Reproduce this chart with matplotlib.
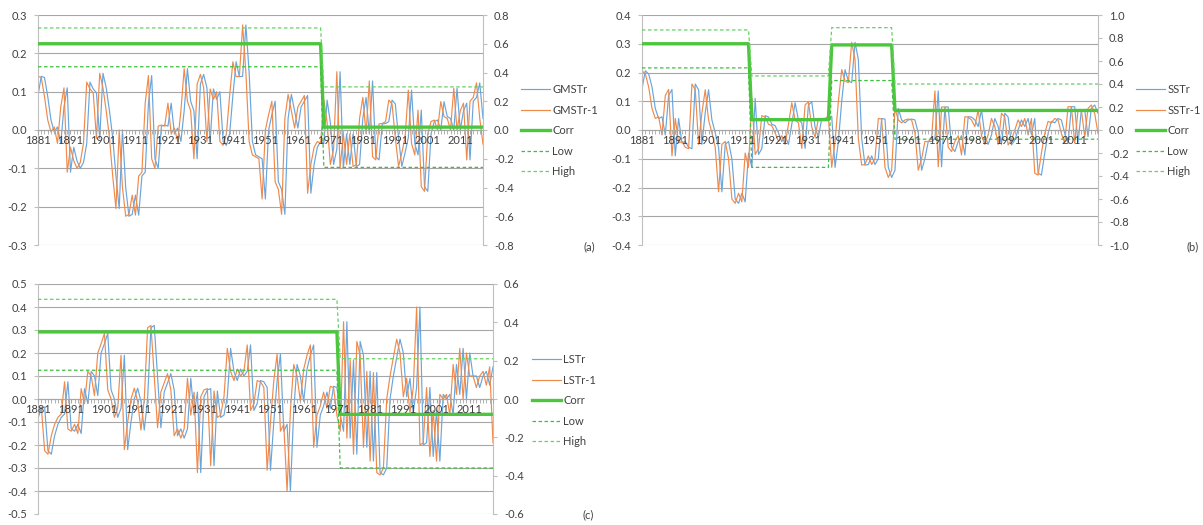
import numpy as np
import matplotlib
matplotlib.use("Agg")
import matplotlib.pyplot as plt
from matplotlib.ticker import FormatStrFormatter

plt.rcParams["font.family"] = ["Lato", "DejaVu Sans"]
plt.rcParams["axes.unicode_minus"] = False

years = np.arange(1881, 2019)
label_years = np.arange(1881, 2012, 10)

# (a) global mean surface temperature residuals, r-1 series (1881-2018)
gmstr_1 = [
    0.14, 0.137, 0.087, 0.026, -0.005, 0.008, -0.035, 0.06, 0.11, -0.11,
    -0.045, -0.08, -0.1, -0.085, -0.035, 0.125, 0.107, 0.097, -0.022, 0.148,
    0.11, 0.05, -0.02, -0.12, -0.205, 0.0, -0.15, -0.225, -0.22, -0.17,
    -0.222, -0.12, -0.11, 0.07, 0.142, -0.075, -0.1, 0.01, 0.013, 0.01,
    0.07, -0.01, 0.005, -0.03, 0.05, 0.16, 0.075, 0.05, -0.075, 0.12,
    0.145, 0.11, -0.03, 0.107, 0.08, 0.1, -0.03, -0.04, -0.01, 0.09,
    0.178, 0.139, 0.14, 0.274, 0.15, -0.03, -0.065, -0.07, -0.075, -0.18,
    0.0, 0.04, 0.075, -0.135, -0.155, -0.22, 0.03, 0.093, 0.05, 0.005,
    0.06, 0.075, 0.09, -0.165, -0.09, -0.045, -0.03, -0.035, 0.078, 0.02,
    -0.09, -0.05, 0.152, -0.1, -0.01, -0.09, -0.01, -0.095, -0.09, 0.03,
    0.085, -0.01, 0.128, -0.07, -0.078, 0.016, 0.017, 0.022, 0.078, 0.068,
    -0.02, -0.095, -0.06, -0.02, 0.104, -0.035, -0.065, 0.052, -0.148, -0.16,
    -0.01, 0.022, 0.026, 0.0, 0.074, 0.035, 0.03, 0.0, 0.109, 0.0,
    0.05, 0.07, -0.078, 0.075, 0.085, 0.123, 0.03, -0.037,
]
gmstr_first = 0.09
corr_a_len = [88, 50]
corr_a = [0.60, 0.02]
low_a = [0.44, -0.26]
high_a = [0.71, 0.30]

# (b) sea surface temperature residuals
sstr_1 = [
    0.206, 0.195, 0.15, 0.075, 0.04, 0.046, -0.017, 0.12, 0.141, -0.09,
    0.04, -0.045, -0.04, -0.06, -0.065, 0.16, 0.14, -0.05, 0.06, 0.14,
    0.035, -0.01, -0.06, -0.215, -0.05, -0.04, -0.1, -0.24, -0.255, -0.22,
    -0.25, -0.08, -0.13, 0.11, -0.085, -0.065, 0.05, 0.045, 0.02, 0.015,
    -0.01, -0.04, -0.02, -0.05, 0.02, 0.095, 0.035, 0.025, -0.064, 0.087,
    0.098, 0.01, -0.025, 0.04, 0.04, 0.04, 0.048, -0.13, -0.04, 0.1,
    0.21, 0.17, 0.165, 0.305, 0.245, -0.03, -0.122, -0.12, -0.09, -0.12,
    -0.1, 0.04, 0.038, -0.13, -0.165, -0.14, 0.075, 0.035, 0.025, 0.035,
    0.038, 0.035, -0.01, -0.14, -0.1, -0.04, -0.04, -0.03, 0.136, -0.128,
    0.08, 0.08, -0.06, -0.075, -0.04, -0.02, -0.087, 0.046, 0.045, 0.035,
    0.012, 0.07, -0.02, -0.05, -0.017, 0.04, 0.012, -0.05, 0.058, 0.045,
    -0.052, -0.035, 0.0, 0.035, 0.012, 0.04, -0.017, 0.04, -0.15, -0.157,
    -0.08, -0.012, 0.03, 0.025, 0.04, 0.035, -0.012, -0.046, 0.081, 0.081,
    -0.046, 0.07, 0.07, -0.023, 0.075, 0.087, 0.058, -0.012,
]
sstr_first = 0.143
corr_b_len = [33, 24, 19, 62]
corr_b = [0.75, 0.09, 0.74, 0.17]
low_b = [0.54, -0.325, 0.43, -0.08]
high_b = [0.87, 0.47, 0.89, 0.40]

# (c) land surface temperature residuals
lstr_1 = [
    -0.04, -0.035, -0.225, -0.24, -0.16, -0.11, -0.08, -0.065, 0.075, -0.13,
    -0.14, -0.11, -0.15, 0.045, -0.02, 0.12, 0.1, 0.015, 0.2, 0.24,
    0.285, 0.04, 0.0, -0.08, -0.04, 0.19, -0.22, -0.1, 0.0, 0.047,
    -0.01, -0.135, 0.0, 0.31, 0.32, 0.1, -0.125, 0.03, 0.07, 0.11,
    0.04, -0.16, -0.13, -0.17, -0.13, 0.09, -0.07, 0.03, -0.32, 0.01,
    0.04, 0.045, -0.29, 0.035, -0.08, -0.07, 0.01, 0.22, 0.12, 0.08,
    0.13, 0.1, 0.12, 0.235, -0.05, -0.02, 0.08, 0.075, 0.05, -0.31,
    -0.1, 0.08, 0.195, -0.14, -0.11, -0.4, -0.05, 0.15, 0.1, -0.01,
    0.13, 0.19, 0.235, -0.21, -0.07, -0.03, 0.03, -0.04, 0.055, 0.05,
    -0.07, -0.14, 0.336, -0.17, 0.17, -0.24, 0.25, 0.19, -0.21, 0.12,
    -0.27, 0.115, -0.32, -0.33, -0.3, 0.0, 0.1, 0.18, 0.26, 0.2,
    0.01, 0.09, -0.06, 0.05, 0.4, -0.2, -0.19, 0.05, -0.25, -0.05,
    -0.27, 0.02, 0.0, 0.02, -0.07, 0.15, 0.02, 0.22, 0.0, 0.2,
    0.1, 0.1, 0.05, 0.1, 0.12, 0.06, 0.14, -0.19,
]
lstr_first = -0.084
corr_c_len = [91, 47]
corr_c = [0.35, -0.08]
low_c = [0.15, -0.36]
high_c = [0.52, 0.21]

BLUE = "#6aa5dc"
ORANGE = "#f08a4b"
GREEN = "#4cc63c"
LOW_C = "#3fbf3f"
HIGH_C = "#66d166"
GRID = "#a6a6a6"
AXIS = "#bfbfbf"
TXT = "#404040"
FS = 8

W, H = 1203, 525
fig = plt.figure(figsize=(W / 100, H / 100), dpi=100)


def px_rect(x0, y0, x1, y1):
    return [x0 / W, 1 - y1 / H, (x1 - x0) / W, (y1 - y0) / H]


def ticks(lo, hi, step):
    # +0.0 turns -0.0 into 0.0 so the zero label has no sign
    return np.round(np.arange(lo, hi + step / 2, step), 1) + 0.0


def panel(box, name, lead, first, seg_len, corr, low, high,
          lticks, rticks, leg_xy, tag, tag_xy):
    lag = [first] + list(lead[:-1])

    # left scale: residual series + gridlines
    ax = fig.add_axes(px_rect(*box))
    ax.set_xlim(years[0], years[-1])
    ax.set_ylim(lticks[0], lticks[-1])
    ax.set_yticks(lticks)
    ax.yaxis.set_major_formatter(FormatStrFormatter("%.1f"))
    ax.grid(axis="y", color=GRID, lw=0.8)
    ax.set_axisbelow(True)
    for s in ("top", "right", "bottom"):
        ax.spines[s].set_visible(False)
    ax.spines["left"].set_color(AXIS)
    ax.tick_params(axis="x", which="both", bottom=False, labelbottom=False)
    ax.tick_params(axis="y", length=3, color=AXIS, labelsize=FS,
                   labelcolor=TXT, pad=5)

    ax.plot(years, lag, color=BLUE, lw=0.85, label=name)
    ax.plot(years, lead, color=ORANGE, lw=0.85, label=name + "-1")

    # right scale: correlation with its bounds; also carries the year axis
    ax2 = ax.twinx()
    ax2.set_ylim(rticks[0], rticks[-1])
    ax2.set_yticks(rticks)
    ax2.yaxis.set_major_formatter(FormatStrFormatter("%.1f"))
    for s in ("top", "left"):
        ax2.spines[s].set_visible(False)
    ax2.spines["right"].set_color(AXIS)
    ax2.spines["bottom"].set_position(("data", 0))
    ax2.spines["bottom"].set_color(GRID)
    ax2.xaxis.set_visible(True)
    ax2.set_xticks(label_years)
    ax2.set_xticks(years, minor=True)
    ax2.set_axisbelow(False)
    ax2.tick_params(axis="x", which="both", direction="out", length=3,
                    color=GRID, labelsize=FS, labelcolor=TXT, pad=0.5)
    ax2.tick_params(axis="y", length=3, color=AXIS, labelsize=FS,
                    labelcolor=TXT, pad=5)

    ax2.plot(years, np.repeat(corr, seg_len), color=GREEN, lw=2.4,
             label="Corr")
    ax2.plot(years, np.repeat(low, seg_len), color=LOW_C, lw=0.9,
             ls=(0, (2.8, 2.0)), label="Low")
    ax2.plot(years, np.repeat(high, seg_len), color=HIGH_C, lw=0.9,
             ls=(0, (2.8, 2.0)), label="High")

    h1, l1 = ax.get_legend_handles_labels()
    h2, l2 = ax2.get_legend_handles_labels()
    fig.legend(h1 + h2, l1 + l2, loc="upper left",
               bbox_to_anchor=(leg_xy[0] / W, 1 - leg_xy[1] / H),
               frameon=False, fontsize=FS, labelcolor=TXT,
               handlelength=2.6, handletextpad=0.2, labelspacing=0.86,
               borderpad=0, borderaxespad=0)

    fig.text(tag_xy[0] / W, 1 - tag_xy[1] / H, tag, ha="center",
             va="center", fontsize=FS, color=TXT)


panel((38, 15, 483, 245), "GMSTr", gmstr_1, gmstr_first, corr_a_len,
      corr_a, low_a, high_a,
      ticks(-0.3, 0.3, 0.1), ticks(-0.8, 0.8, 0.2),
      (521, 84), "(a)", (589, 247))

panel((642, 15, 1098, 245), "SSTr", sstr_1, sstr_first, corr_b_len,
      corr_b, low_b, high_b,
      ticks(-0.4, 0.4, 0.1), ticks(-1.0, 1.0, 0.2),
      (1136, 84), "(b)", (1193, 247))

panel((38, 284, 493, 514), "LSTr", lstr_1, lstr_first, corr_c_len,
      corr_c, low_c, high_c,
      ticks(-0.5, 0.5, 0.1), ticks(-0.6, 0.6, 0.2),
      (532, 354), "(c)", (588, 515))

fig.savefig("out.png", dpi=100, facecolor="white")
